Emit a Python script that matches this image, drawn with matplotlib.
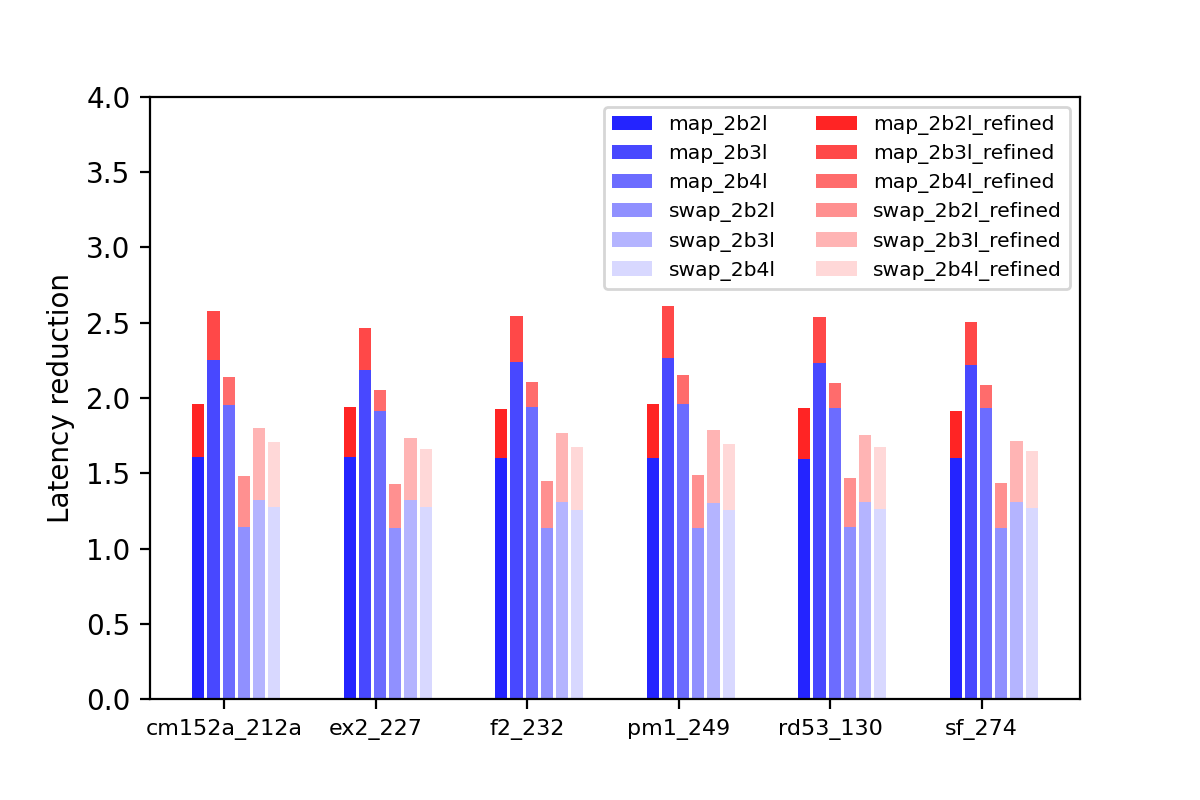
import matplotlib
matplotlib.use("Agg")
import matplotlib.pyplot as plt
import numpy as np

benchmarks = ["cm152a_212a", "ex2_227", "f2_232", "pm1_249", "rd53_130", "sf_274"]
methods = ["map_2b2l", "map_2b3l", "map_2b4l", "swap_2b2l", "swap_2b3l", "swap_2b4l"]

# latency reduction before refinement, one list per method (over benchmarks)
base = {
    "map_2b2l":  [1.61, 1.61, 1.60, 1.60, 1.595, 1.60],
    "map_2b3l":  [2.25, 2.186, 2.24, 2.266, 2.235, 2.22],
    "map_2b4l":  [1.953, 1.914, 1.94, 1.96, 1.936, 1.936],
    "swap_2b2l": [1.143, 1.136, 1.136, 1.136, 1.143, 1.136],
    "swap_2b3l": [1.322, 1.322, 1.31, 1.302, 1.311, 1.311],
    "swap_2b4l": [1.276, 1.276, 1.256, 1.256, 1.262, 1.271],
}
# latency reduction after refinement
refined = {
    "map_2b2l":  [1.96, 1.94, 1.93, 1.96, 1.934, 1.914],
    "map_2b3l":  [2.578, 2.465, 2.545, 2.611, 2.538, 2.505],
    "map_2b4l":  [2.14, 2.053, 2.106, 2.153, 2.10, 2.086],
    "swap_2b2l": [1.482, 1.429, 1.45, 1.488, 1.468, 1.435],
    "swap_2b3l": [1.80, 1.734, 1.767, 1.787, 1.754, 1.714],
    "swap_2b4l": [1.708, 1.661, 1.674, 1.694, 1.674, 1.648],
}

blues = ["#2424ff", "#4848ff", "#6c6cff", "#9090ff", "#b4b4ff", "#d8d8ff"]
reds = ["#ff2424", "#ff4848", "#ff6c6c", "#ff9090", "#ffb4b4", "#ffd8d8"]

fig, ax = plt.subplots(figsize=(6, 4), dpi=200)
fig.subplots_adjust(left=0.125, right=0.9, bottom=0.126, top=0.879)

x = np.arange(len(benchmarks))
width = 0.08
step = 0.1

blue_handles = []
red_handles = []
for i, m in enumerate(methods):
    b = np.array(base[m])
    hb = ax.bar(x + i * step, b, width, align="edge", color=blues[i], label=m)
    blue_handles.append(hb)
for i, m in enumerate(methods):
    b = np.array(base[m])
    r = np.array(refined[m])
    hr = ax.bar(x + i * step, r - b, width, bottom=b, align="edge",
                color=reds[i], label=m + "_refined")
    red_handles.append(hr)

ax.set_xticks(x + 0.21)
ax.set_xticklabels(benchmarks, fontsize=8)
ax.set_ylim(0, 4.0)
ax.set_yticks(np.arange(0, 4.01, 0.5))
ax.set_ylabel("Latency reduction")
ax.legend(handles=blue_handles + red_handles, ncol=2, fontsize=7.3,
          labelspacing=0.45, loc="upper right")

fig.savefig("out.png", dpi=200)
